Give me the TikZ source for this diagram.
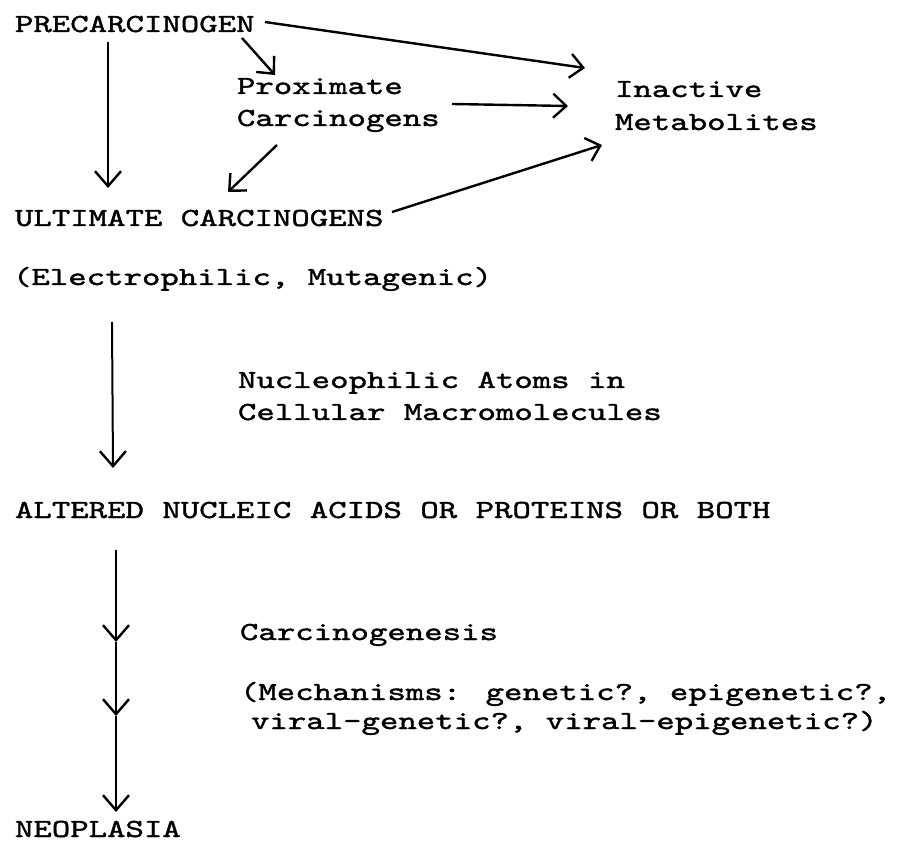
\documentclass[tikz,border=0pt]{standalone}
\usepackage{fontspec}
\setmainfont{lmmono10-regular.otf}[FakeStretch=1.35,FakeBold=1.5]
\usetikzlibrary{arrows.meta,calc}
\begin{document}
\begin{tikzpicture}[x=1pt,y=-1pt,
  txt/.style={anchor=base west,inner sep=0pt,outer sep=0pt,font=\fontsize{26}{26}\selectfont},
  arr/.style={line width=2.4pt,-{Straight Barb[length=13pt,width=24pt,line width=2.4pt]}},
  varr/.style={line width=2pt,-{Straight Barb[length=15pt,width=26pt,line width=2.4pt]}}]
\useasboundingbox[fill=white] (0,0) rectangle (903,850);
\node[txt] (pre) at (15,32) {PRECARCINOGEN};
\node[txt] (prox1) at (237,94) {Proximate};
\node[txt] (prox2) at (237,126) {Carcinogens};
\node[txt] (ina1) at (615,97) {Inactive};
\node[txt] (ina2) at (615,130) {Metabolites};
\node[txt] (ult) at (15,226) {ULTIMATE CARCINOGENS};
\node[txt] (elec) at (13,285) {(Electrophilic, Mutagenic)};
\node[txt] (nuc1) at (238,388) {Nucleophilic Atoms in};
\node[txt] (nuc2) at (238,420) {Cellular Macromolecules};
\node[txt] (alt) at (15,518) {ALTERED NUCLEIC ACIDS OR PROTEINS OR BOTH};
\node[txt] (carc) at (240,640) {Carcinogenesis};
\node[txt] (mech1) at (240,700) {(Mechanisms: genetic?, epigenetic?,};
\node[txt] (mech2) at (251,729) {viral-genetic?, viral-epigenetic?)};
\node[txt] (neo) at (15,837) {NEOPLASIA};
% connectors
\draw[arr] ($(pre.base west)+(250,-10)$) -- ($(ina1.base west)+(-30,-29)$);
\draw[arr] ($(pre.base west)+(227,6)$) -- ($(prox1.base west)+(38,-19)$);
\draw[varr] ($(pre.base west)+(93,10)$) -- ($(ult.base west)+(93,-38)$);
\draw[arr] ($(prox1.base west)+(215,10)$) -- ($(ina1.base west)+(-47,9)$);
\draw[arr] ($(prox2.base west)+(40,19)$) -- ($(ult.base west)+(213,-34)$);
\draw[arr] ($(ult.base west)+(377,-14)$) -- ($(ina2.base west)+(-13,15)$);
\draw[varr] ($(elec.base west)+(99,37)$) -- ($(alt.base west)+(98,-50)$);
\coordinate (m1) at ($(carc.base west)+(-124,2)$);
\coordinate (m2) at ($(mech2.base west)+(-135,-13)$);
\draw[varr] ($(alt.base west)+(101,32)$) -- (m1);
\draw[varr] (m1) -- (m2);
\draw[varr] (m2) -- ($(neo.base west)+(101,-25)$);
\end{tikzpicture}
\end{document}
